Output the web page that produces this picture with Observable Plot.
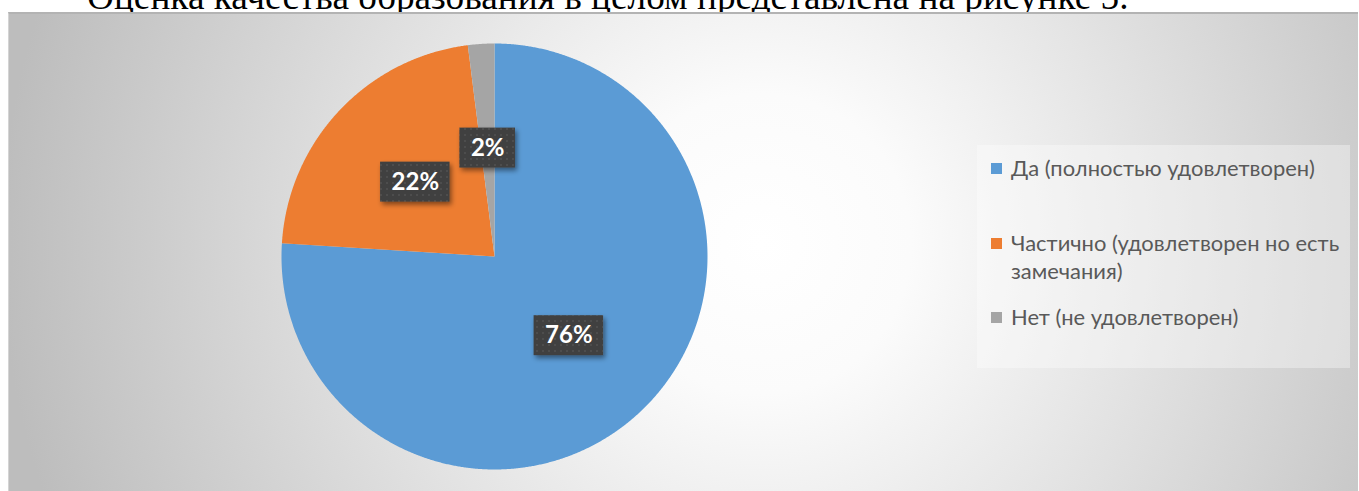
<!DOCTYPE html>
<html><head><meta charset="utf-8">
<script src="https://cdn.jsdelivr.net/npm/d3@7"></script>
<script src="https://cdn.jsdelivr.net/npm/@observablehq/plot@0.6"></script>
<style>
html,body{margin:0;padding:0;background:#fff;width:1359px;height:491px;overflow:hidden;position:relative}
#title{position:absolute;left:0;top:0;width:1359px;height:13px;overflow:hidden}
#title span{position:absolute;left:87px;white-space:nowrap;font-family:"Liberation Serif","DejaVu Serif",serif;color:#000}
#box{position:absolute;left:8px;top:12px;width:1350px;height:480px;box-sizing:border-box;border-top:2px solid #b3b3b3;border-left:1px solid #d4d4d4;
 background:radial-gradient(circle at 752px 230px,#ffffff 0px,#fbfbfb 150px,#bdbdbd 760px)}
#chart{position:absolute;left:0;top:0}
#legend{position:absolute;left:977px;top:145px;width:373px;height:223px;background:rgba(255,255,255,0.35)}
.item{position:absolute;left:0;font-family:Lato,"Open Sans",sans-serif;color:#595959;line-height:28px}
.sw{position:absolute;width:11px;height:11px}
</style></head>
<body>
<div id="title"><span id="titletext">Оценка качества образования в целом представлена на рисунке 5.</span></div>
<div id="box"></div>
<div id="chart"></div>
<div id="legend"></div>
<script>
const categories = ["Да (полностью удовлетворен)", "Частично (удовлетворен но есть замечания)", "Нет (не удовлетворен)"];
const values = [76, 22, 2];
const labels = ["76%", "22%", "2%"];
const colors = ["#5B9BD5", "#ED7D31", "#A5A5A5"];

const cx = 494, cy = 256, r = 213;

function fitSize(text, font, target) {
  const ctx = document.createElement("canvas").getContext("2d");
  ctx.font = "100px " + font;
  return 100 * target / ctx.measureText(text).width;
}

// title (cut off at top, from the surrounding document)
const tt = document.getElementById("titletext");
const tsize = fitSize(tt.textContent, '"Liberation Serif"', 1042);
tt.style.fontSize = tsize + "px";
tt.style.top = (11 - tsize * 0.891) + "px";
tt.style.lineHeight = "1";

// slices
const total = d3.sum(values);
const pts = [];
const lab = [];
let acc = 0;
categories.forEach((c, i) => {
  const a0 = acc / total * 2 * Math.PI;
  acc += values[i];
  const a1 = acc / total * 2 * Math.PI;
  pts.push({cat: c, x: 0, y: 0});
  const n = Math.max(2, Math.ceil((a1 - a0) / 0.005));
  for (let k = 0; k <= n; k++) {
    const a = a0 + (a1 - a0) * k / n;
    pts.push({cat: c, x: Math.sin(a), y: Math.cos(a)});
  }
  const am = (a0 + a1) / 2;
  lab.push({cat: c, label: labels[i], x: 0.51 * Math.sin(am), y: 0.51 * Math.cos(am)});
});

const plot = Plot.plot({
  width: 1359, height: 491, margin: 0,
  style: {background: "transparent", overflow: "visible"},
  x: {domain: [-1, 1], range: [cx - r, cx + r], axis: null},
  y: {domain: [-1, 1], range: [cy + r, cy - r], axis: null},
  color: {domain: categories, range: colors},
  marks: [
    Plot.line(pts, {x: "x", y: "y", z: "cat", fill: "cat", stroke: null, curve: "linear-closed"}),
    Plot.text(lab, {x: "x", y: "y", text: "label", fill: "white", fontWeight: "bold",
      fontSize: 24, fontFamily: "Lato, 'Open Sans', sans-serif", className: "lbl"})
  ]
});
document.getElementById("chart").appendChild(plot);

// label boxes with dotted texture and shadow, placed through the plot's scales
const sx = plot.scale("x"), sy = plot.scale("y");
const svg = d3.select(plot);
const defs = svg.insert("defs", ":first-child");
const pat = defs.append("pattern").attr("id", "dots").attr("width", 6).attr("height", 6).attr("patternUnits", "userSpaceOnUse");
pat.append("rect").attr("width", 6).attr("height", 6).attr("fill", "#404040");
pat.append("rect").attr("x", 2).attr("y", 2).attr("width", 2).attr("height", 2).attr("fill", "#4e4e4e");
const f = defs.append("filter").attr("id", "sh").attr("x", "-30%").attr("y", "-30%").attr("width", "160%").attr("height", "160%");
f.append("feDropShadow").attr("dx", 2).attr("dy", 3).attr("stdDeviation", 2.5).attr("flood-color", "#000").attr("flood-opacity", 0.45);
const textNodes = svg.selectAll("g.lbl text").nodes();
const textG = svg.select("g.lbl").node();
const boxG = svg.insert("g", () => textG);
lab.forEach((d, i) => {
  const tw = textNodes[i] ? textNodes[i].getComputedTextLength() : 40;
  const w = tw + 22, h = 40;
  const mx = sx.apply(d.x), my = sy.apply(d.y);
  boxG.append("rect").attr("x", mx - w / 2).attr("y", my - h / 2).attr("width", w).attr("height", h)
    .attr("fill", "url(#dots)").attr("filter", "url(#sh)");
});

// legend
const lg = document.getElementById("legend");
const lfs = fitSize(categories[0], "Lato", 304);
const tops = [168, 243, 317];
categories.forEach((c, i) => {
  const it = document.createElement("div");
  it.className = "item";
  it.style.left = "0px";
  it.style.top = (tops[i] - 145 - 14) + "px";
  const sw = document.createElement("div");
  sw.className = "sw";
  sw.style.background = colors[i];
  sw.style.left = "14px";
  sw.style.top = "9px";
  const tx = document.createElement("div");
  tx.style.position = "absolute";
  tx.style.left = "34px";
  tx.style.top = "0px";
  tx.style.width = "340px";
  tx.style.fontSize = lfs + "px";
  tx.textContent = c;
  it.appendChild(sw);
  it.appendChild(tx);
  lg.appendChild(it);
});
</script>
</body></html>
